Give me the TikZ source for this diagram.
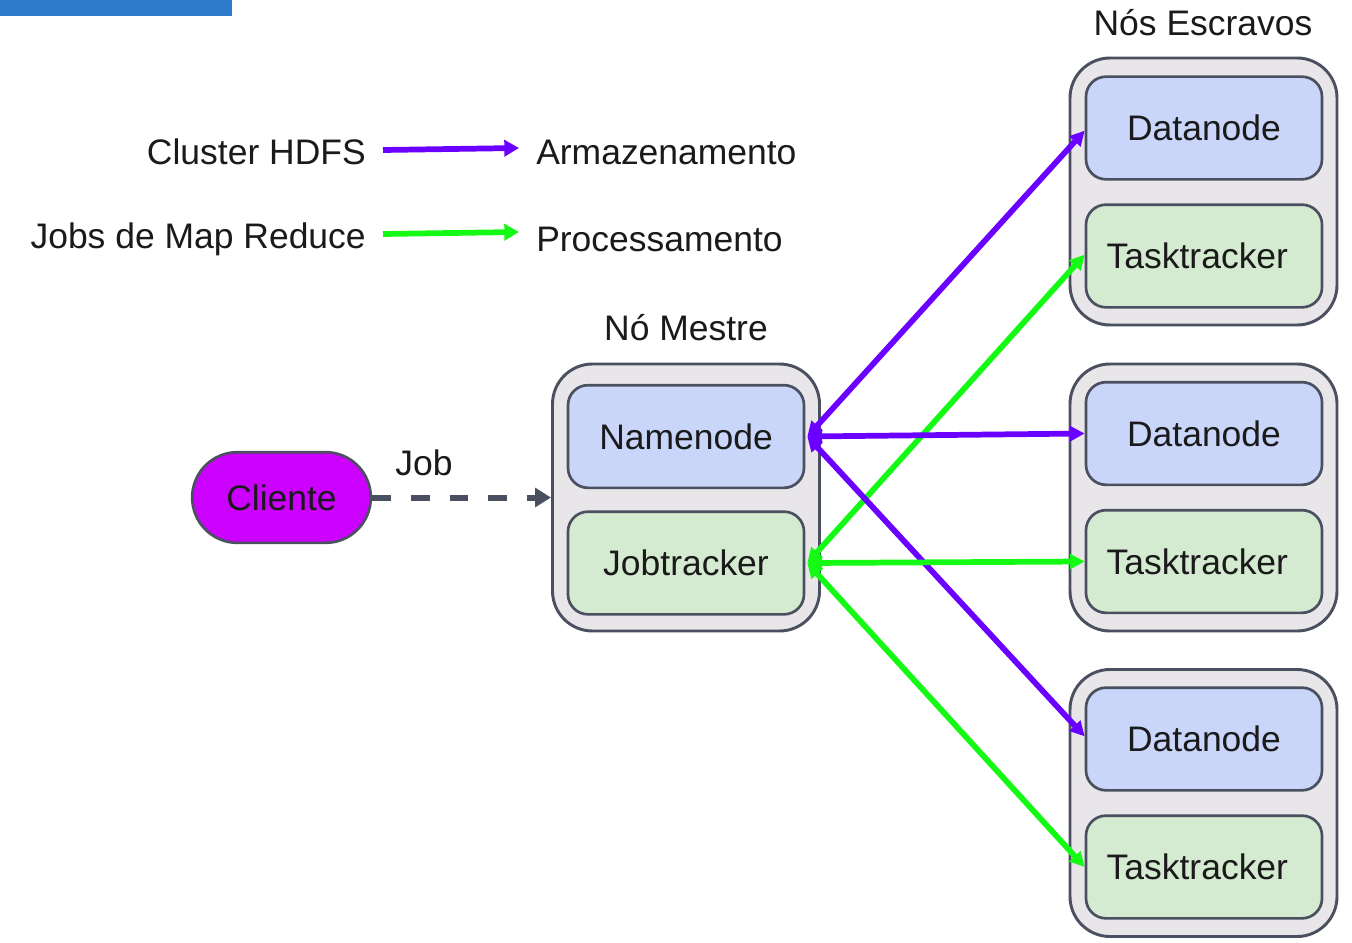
\documentclass[tikz,border=0pt]{standalone}
\usepackage{fontspec}
\setmainfont{Liberation Sans}
\usetikzlibrary{arrows.meta}
\definecolor{edge}{RGB}{74,80,96}
\definecolor{outerfill}{RGB}{232,230,232}
\definecolor{dnfill}{RGB}{201,214,250}
\definecolor{ttfill}{RGB}{213,235,209}
\definecolor{hdfs}{RGB}{106,0,255}
\definecolor{mr}{RGB}{20,250,20}
\definecolor{cli}{RGB}{204,0,255}
\definecolor{titleblue}{RGB}{43,123,201}
\definecolor{ink}{RGB}{26,26,26}
\tikzset{
  txt/.style={font=\fontsize{26.6}{30}\selectfont, text=ink, inner sep=0pt},
  outerbox/.style={draw=edge, line width=2.2pt, fill=outerfill, rounded corners=30pt,
    minimum width=200.25pt, minimum height=200.25pt, inner sep=0pt},
  dnbox/.style={draw=edge, line width=2pt, fill=dnfill, rounded corners=15pt,
    minimum width=177pt, minimum height=77pt, txt},
  ttbox/.style={dnbox, fill=ttfill, text width=177pt, align=left,
    execute at begin node={\hspace*{15.5pt}}},
  hdfsarrow/.style={draw=hdfs, line width=4.3pt, {Triangle[length=11pt,width=11pt]}-{Triangle[length=11pt,width=11pt]}},
  mrarrow/.style={draw=mr, line width=4.3pt, {Triangle[length=11pt,width=11pt]}-{Triangle[length=11pt,width=11pt]}},
  legendhdfs/.style={draw=hdfs, line width=4.3pt, -{Triangle[length=11pt,width=12pt]}},
  legendmr/.style={draw=mr, line width=4.3pt, -{Triangle[length=11pt,width=12pt]}},
}
\begin{document}
\begin{tikzpicture}[x=0.75pt,y=-0.75pt]
\path[use as bounding box, fill=white] (0,0) rectangle (1352,942);
\fill[titleblue] (0,0) rectangle (232,16);

% legend
\node[txt, anchor=east] (lh) at (366,152) {Cluster HDFS};
\node[txt, anchor=west] (la) at (536,152) {Armazenamento};
\node[txt, anchor=east] (lm) at (366,239) {Jobs de Map Reduce};
\node[txt, anchor=west] (lp) at (536,239) {Processamento};
\coordinate (lh1) at (383,150);
\coordinate (lh2) at (519,148);
\coordinate (lm1) at (383,234);
\coordinate (lm2) at (519,232);
\draw[legendhdfs] (lh1) -- (lh2);
\draw[legendmr] (lm1) -- (lm2);

% master
\node[txt] (mt) at (686,328) {Nó Mestre};
\node[outerbox] (master) at (686,497.5) {};
\node[dnbox] (nn) at (686,436.5) {Namenode};
\node[dnbox, fill=ttfill] (jt) at (686,563) {Jobtracker};

% slaves
\node[txt] (st) at (1203,23) {Nós Escravos};
\node[outerbox] (s1) at (1203.5,191.5) {};
\node[dnbox] (dn1) at (1204,128) {Datanode};
\node[ttbox] (tt1) at (1204,256) {Tasktracker};
\node[outerbox] (s2) at (1203.5,497.5) {};
\node[dnbox] (dn2) at (1204,433.5) {Datanode};
\node[ttbox] (tt2) at (1204,561.5) {Tasktracker};
\node[outerbox] (s3) at (1203.5,803) {};
\node[dnbox] (dn3) at (1204,739) {Datanode};
\node[ttbox] (tt3) at (1204,867) {Tasktracker};

% client
\node[txt, draw=edge, line width=2pt, fill=cli, rounded corners=34pt,
  minimum width=134pt, minimum height=68pt] (cl) at (281.5,497.5) {Cliente};
\node[txt] (job) at (424,463) {Job};
\draw[draw=edge, line width=4.5pt, dash pattern=on 14pt off 15pt,
  -{Triangle[length=12pt,width=14pt]}] (cl.east) -- (master.west);

% connections
\coordinate (nnE) at ([xshift=1.5pt]nn.east);
\coordinate (jtE) at ([xshift=1.5pt]jt.east);
\draw[mrarrow] (jtE) -- ([yshift=1pt]tt1.west);
\draw[mrarrow] (jtE) -- (tt3.west);
\draw[hdfsarrow] (nnE) -- ([yshift=-2pt]dn1.west);
\draw[hdfsarrow] (nnE) -- ([yshift=2pt]dn3.west);
\draw[hdfsarrow] (nnE) -- (dn2.west);
\draw[mrarrow] (jtE) -- (tt2.west);
\end{tikzpicture}
\end{document}
